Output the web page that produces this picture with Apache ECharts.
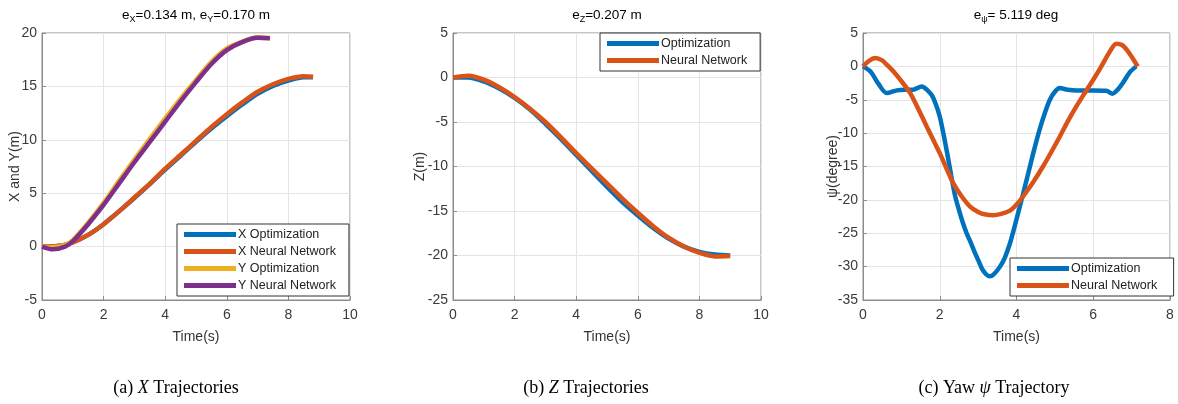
<!DOCTYPE html>
<html>
<head>
<meta charset="utf-8">
<script src="https://cdn.jsdelivr.net/npm/echarts@6/dist/echarts.min.js"></script>
<style>
  html,body{margin:0;padding:0;background:#fff}
  #chart{width:1178px;height:404px}
</style>
</head>
<body>
<div id="chart"></div>
<script>
// ---- data ----
// (a) X and Y
var tX = [0, 0.5, 1, 1.5, 2, 2.5, 3, 3.5, 4, 4.5, 5, 5.5, 6, 6.5, 7, 7.5, 8, 8.5, 8.8]
var xOpt = [0, 0.05, 0.4, 1.1, 2.1, 3.3, 4.55, 5.85, 7.2, 8.5, 9.8, 11.05, 12.2, 13.3, 14.3, 15.05, 15.55, 15.85, 15.85]
var xNN = [0, 0.05, 0.4, 1.1, 2.1, 3.3, 4.6, 5.9, 7.3, 8.6, 9.9, 11.2, 12.4, 13.5, 14.5, 15.2, 15.7, 15.95, 15.9]
var tY = [0, 0.35, 0.75, 1, 1.5, 2, 2.5, 3, 3.5, 4, 4.5, 5, 5.5, 6, 6.5, 7, 7.4]
var yOpt = [0, -0.05, 0.15, 0.6, 2.25, 4.1, 6.15, 8.15, 10.1, 12.0, 13.85, 15.6, 17.3, 18.55, 19.2, 19.6, 19.5]
var yNN = [0, -0.25, 0, 0.5, 2.1, 3.9, 5.9, 7.9, 9.8, 11.7, 13.6, 15.4, 17.1, 18.4, 19.15, 19.55, 19.5]
// (b) Z
var tZ = [0, 0.5, 1, 1.5, 2, 2.5, 3, 3.5, 4, 4.5, 5, 5.5, 6, 6.5, 7, 7.5, 8, 8.5, 9]
var zOpt = [0, 0.0, -0.45, -1.25, -2.3, -3.6, -5.2, -6.9, -8.7, -10.5, -12.3, -14.0, -15.5, -16.9, -18.1, -19.0, -19.6, -19.9, -20.0]
var zNN = [0, 0.2, -0.25, -1.1, -2.2, -3.5, -5.0, -6.7, -8.5, -10.2, -11.9, -13.6, -15.2, -16.7, -18.0, -19.0, -19.7, -20.1, -20.05]
// (c) yaw
var tPsiOpt = [0, 0.2, 0.4, 0.62, 0.88, 1.1, 1.3, 1.53, 1.7, 1.8, 1.9, 2.0, 2.1, 2.2, 2.3, 2.4, 2.5, 2.6, 2.7, 2.8, 2.9, 3.0, 3.1, 3.2, 3.3, 3.4, 3.57, 3.7, 3.83, 3.95, 4.05, 4.15, 4.25, 4.35, 4.45, 4.6, 4.75, 4.87, 5.0, 5.13, 5.3, 5.6, 6.0, 6.34, 6.5, 6.65, 6.77, 6.95, 7.12]
var psiOpt = [0, -0.8, -2.6, -4.0, -3.6, -3.5, -3.5, -3.0, -3.7, -4.4, -5.7, -7.5, -10.2, -13.2, -16.4, -19.4, -21.5, -23.4, -25.0, -26.3, -27.7, -29.0, -30.3, -31.1, -31.45, -31.2, -30.0, -28.6, -26.5, -24.0, -21.8, -19.6, -17.3, -15.0, -12.7, -9.5, -6.8, -5.0, -3.8, -3.25, -3.45, -3.6, -3.6, -3.65, -4.1, -3.4, -2.5, -0.9, 0]
var tPsiNN = [0, 0.15, 0.32, 0.5, 0.62, 0.8, 0.97, 1.23, 1.45, 1.66, 2.0, 2.2, 2.35, 2.55, 2.79, 3.0, 3.2, 3.39, 3.6, 3.83, 4.0, 4.17, 4.45, 4.69, 4.9, 5.13, 5.35, 5.56, 5.8, 6.0, 6.2, 6.43, 6.6, 6.75, 6.9, 7.05, 7.16]
var psiNN = [0, 0.8, 1.25, 0.9, 0.25, -0.8, -2.0, -4.0, -6.5, -9.0, -13.0, -15.6, -17.5, -19.3, -21.0, -21.8, -22.2, -22.3, -22.1, -21.6, -20.7, -19.5, -17.2, -15.0, -12.9, -10.5, -8.1, -6.0, -3.8, -2.0, -0.1, 2.2, 3.4, 3.2, 2.3, 1.0, 0]

var C_BLUE = '#0072BD', C_ORANGE = '#D95319', C_YELLOW = '#EDB120', C_PURPLE = '#7E2F8E'

function zip(t, v){
    return t.map(function(x, i){ return [x, v[i]] })
}

var chart = echarts.init(document.getElementById('chart'))

var FONT = 'Liberation Sans'
var plots = [
    {left: 42, width: 308, xmax: 10, ymin: -5, ymax: 20, yname: 'X and Y(m)', ygap: 20},
    {left: 453, width: 308, xmax: 10, ymin: -25, ymax: 5, yname: 'Z(m)', ygap: 26},
    {left: 863, width: 307, xmax: 8, ymin: -35, ymax: 5, yname: 'ψ(degree)', ygap: 23}
]

var grids = [], xAxes = [], yAxes = []
plots.forEach(function(p, i){
    grids.push({left: p.left, top: 33, width: p.width, height: 267, show: true,
        borderColor: '#8c8c8c', borderWidth: 1, backgroundColor: '#fff'})
    xAxes.push({type: 'value', gridIndex: i, min: 0, max: p.xmax, interval: 2,
        name: 'Time(s)', nameLocation: 'middle', nameGap: 30, nameMoveOverlap: false,
        nameTextStyle: {fontFamily: FONT, fontSize: 14, color: '#333'},
        axisLine: {show: true, onZero: false, lineStyle: {color: '#8c8c8c'}},
        axisTick: {show: true, inside: true, length: 4, lineStyle: {color: '#8c8c8c'}},
        axisLabel: {fontFamily: FONT, fontSize: 14, color: '#3a3a3a', margin: 8},
        splitLine: {show: true, lineStyle: {color: '#e4e4e4'}}})
    yAxes.push({type: 'value', gridIndex: i, min: p.ymin, max: p.ymax, interval: 5,
        name: p.yname, nameLocation: 'middle', nameGap: p.ygap, nameMoveOverlap: false,
        nameTextStyle: {fontFamily: FONT, fontSize: 14, color: '#333'},
        axisLine: {show: true, onZero: false, lineStyle: {color: '#8c8c8c'}},
        axisTick: {show: true, inside: true, length: 4, lineStyle: {color: '#8c8c8c'}},
        axisLabel: {fontFamily: FONT, fontSize: 14, color: '#3a3a3a', margin: 5},
        splitLine: {show: true, lineStyle: {color: '#e4e4e4'}}})
})

function line(name, data, color, idx){
    return {name: name, type: 'line', xAxisIndex: idx, yAxisIndex: idx, data: data,
        showSymbol: false, smooth: 0.3, color: color,
        lineStyle: {width: 4.5, color: color}, emphasis: {disabled: true}}
}

function legend(names, left, top){
    return {data: names, left: left, top: top, orient: 'vertical',
        icon: 'rect', itemWidth: 52, itemHeight: 5, itemGap: 4,
        padding: [4, 13, 4, 7], backgroundColor: '#fff',
        borderColor: '#333', borderWidth: 1, borderRadius: 0,
        textStyle: {fontFamily: FONT, fontSize: 12.5, color: '#222', padding: [0, 0, 0, -3]},
        selectedMode: false}
}

var titleRich = {
    e: {fontFamily: FONT, fontSize: 13.5, color: '#222', lineHeight: 18, verticalAlign: 'middle'},
    s: {fontFamily: FONT, fontSize: 9, color: '#222', lineHeight: 9, verticalAlign: 'bottom'}
}
var capRich = {
    n: {fontFamily: 'Liberation Serif', fontSize: 18, color: '#111'},
    i: {fontFamily: 'Liberation Serif', fontSize: 18, fontStyle: 'italic', color: '#111'}
}

function txt(x, y, text, rich){
    return {type: 'text', x: x, y: y, silent: true,
        style: {text: text, rich: rich, align: 'center', verticalAlign: 'middle'}}
}

chart.setOption({
    animation: false,
    grid: grids,
    xAxis: xAxes,
    yAxis: yAxes,
    legend: [
        legend(['X Optimization', 'X Neural Network', 'Y Optimization', 'Y Neural Network'], 177, 224),
        legend(['Optimization', 'Neural Network'], 600, 33),
        legend(['Optimization ', 'Neural Network '], 1010, 258)
    ],
    series: [
        line('X Optimization', zip(tX, xOpt), C_BLUE, 0),
        line('X Neural Network', zip(tX, xNN), C_ORANGE, 0),
        line('Y Optimization', zip(tY, yOpt), C_YELLOW, 0),
        line('Y Neural Network', zip(tY, yNN), C_PURPLE, 0),
        line('Optimization', zip(tZ, zOpt), C_BLUE, 1),
        line('Neural Network', zip(tZ, zNN), C_ORANGE, 1),
        line('Optimization ', zip(tPsiOpt, psiOpt), C_BLUE, 2),
        line('Neural Network ', zip(tPsiNN, psiNN), C_ORANGE, 2)
    ],
    graphic: [
        txt(196, 15, '{e|e}{s|X}{e|=0.134 m, e}{s|Y}{e|=0.170 m}', titleRich),
        txt(607, 15, '{e|e}{s|Z}{e|=0.207 m}', titleRich),
        txt(1016, 15, '{e|e}{s|ψ}{e|= 5.119 deg}', titleRich),
        txt(176, 388, '{n|(a) }{i|X}{n| Trajectories}', capRich),
        txt(586, 388, '{n|(b) }{i|Z}{n| Trajectories}', capRich),
        txt(994, 388, '{n|(c) Yaw }{i|ψ}{n| Trajectory}', capRich)
    ]
})
</script>
</body>
</html>
